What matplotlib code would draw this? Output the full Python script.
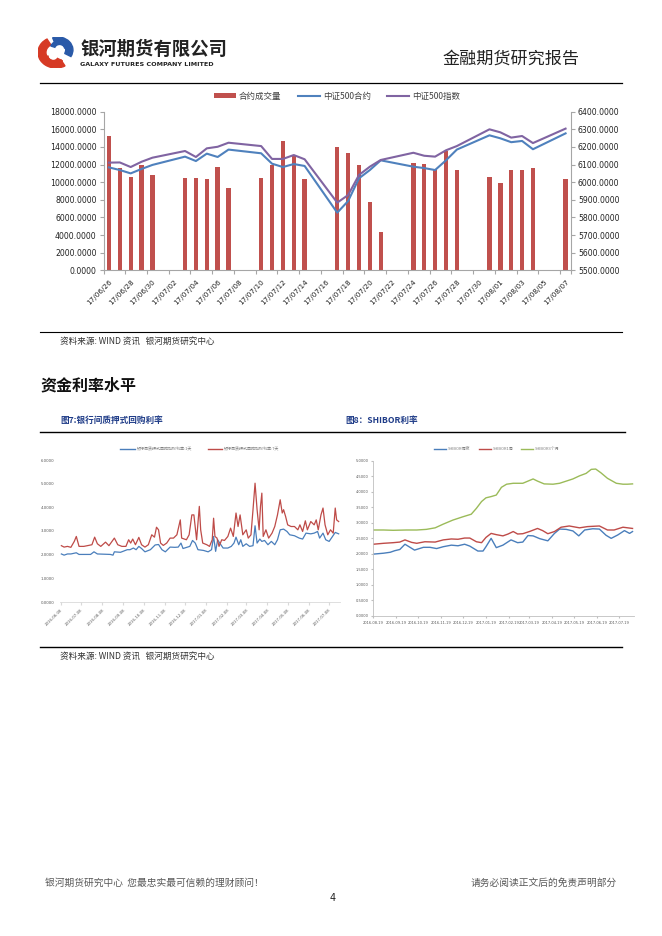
import matplotlib
matplotlib.use('Agg')
import matplotlib.pyplot as plt
import numpy as np
import pandas as pd
from matplotlib.patches import Patch, Wedge
from matplotlib.lines import Line2D

plt.rcParams['font.family'] = ['DejaVu Sans', 'Noto Sans CJK SC']
CJK = ['Noto Sans CJK SC', 'DejaVu Sans']

# ---------------- data: top chart ----------------
trade_dates = ['2017-06-26', '2017-06-27', '2017-06-28', '2017-06-29', '2017-06-30',
               '2017-07-03', '2017-07-04', '2017-07-05', '2017-07-06', '2017-07-07',
               '2017-07-10', '2017-07-11', '2017-07-12', '2017-07-13', '2017-07-14',
               '2017-07-17', '2017-07-18', '2017-07-19', '2017-07-20', '2017-07-21',
               '2017-07-24', '2017-07-25', '2017-07-26', '2017-07-27', '2017-07-28',
               '2017-07-31', '2017-08-01', '2017-08-02', '2017-08-03', '2017-08-04',
               '2017-08-07']
volume = [15250, 11580, 10600, 11950, 10780, 10480, 10500, 10330, 11760, 9300,
          10500, 11950, 14710, 13090, 10330, 14030, 13280, 11990, 7750, 4350,
          12210, 12070, 11460, 13540, 11380, 10590, 9870, 11420, 11420, 11610,
          10360]
contract = [6084, 6069, 6050, 6075, 6098, 6145, 6120, 6162, 6143, 6185,
            6164, 6105, 6086, 6103, 6092, 5827, 5893, 6022, 6069, 6124,
            6088, 6080, 6069, 6124, 6185, 6266, 6249, 6227, 6234, 6187,
            6277]
index500 = [6111, 6112, 6086, 6116, 6139, 6177, 6143, 6192, 6201, 6224,
            6205, 6132, 6132, 6154, 6130, 5884, 5927, 6041, 6088, 6126,
            6167, 6150, 6145, 6181, 6205, 6300, 6283, 6253, 6262, 6222,
            6304]
top_tick_labels = ['17/06/26', '17/06/28', '17/06/30', '17/07/02', '17/07/04', '17/07/06',
                   '17/07/08', '17/07/10', '17/07/12', '17/07/14', '17/07/16', '17/07/18',
                   '17/07/20', '17/07/22', '17/07/24', '17/07/26', '17/07/28', '17/07/30',
                   '17/08/01', '17/08/03', '17/08/05', '17/08/07']
top_start, top_end = '2017-06-26', '2017-08-07'

# ---------------- data: repo rates (days since 2016-06-08) ----------------
repo_start = '2016-06-08'
repo7_days = [1, 5, 10, 15, 20, 23, 27, 34, 41, 46, 50, 54, 59, 66, 71, 79, 84, 90, 96, 100,
              103, 106, 110, 115, 119, 124, 129, 134, 138, 141, 144, 147, 151, 156, 161, 166,
              171, 176, 178, 185, 189, 193, 196, 200, 204, 206, 209, 215, 219, 223, 225, 227,
              230, 233, 237, 241, 246, 250, 254, 258, 261, 264, 268, 273, 276, 280, 283, 286,
              289, 292, 294, 296, 298, 302, 306, 311, 315, 319, 323, 326, 328, 331, 334, 339,
              344, 349, 352, 356, 360, 363, 368, 373, 376, 379, 383, 386, 389, 393, 397, 401,
              404, 406, 409]
repo7 = [2.38, 2.32, 2.35, 2.31, 2.56, 2.77, 2.35, 2.35, 2.39, 2.42, 2.74, 2.46, 2.35, 2.53,
         2.38, 2.70, 2.42, 2.35, 2.35, 2.63, 2.49, 2.66, 2.42, 2.73, 2.42, 2.32, 2.42, 2.84,
         2.74, 3.16, 3.05, 2.49, 2.39, 2.49, 2.70, 2.70, 2.84, 3.47, 2.70, 2.63, 2.84, 3.68,
         3.68, 2.63, 4.04, 3.05, 2.49, 2.42, 2.35, 2.63, 3.54, 2.77, 2.70, 2.35, 2.63, 2.60,
         2.77, 3.12, 2.77, 3.76, 3.19, 3.68, 2.84, 3.05, 2.70, 2.84, 3.90, 5.02, 3.90, 3.05,
         4.04, 4.60, 2.77, 3.05, 2.70, 2.91, 3.19, 3.68, 4.32, 3.76, 3.90, 3.61, 3.26, 3.19,
         3.19, 3.05, 3.26, 2.98, 3.43, 3.05, 3.40, 3.26, 3.47, 3.05, 3.68, 3.97, 3.26, 2.84,
         3.05, 2.91, 3.97, 3.47, 3.40]
repo1_days = [1, 5, 10, 15, 23, 27, 44, 49, 54, 73, 77, 79, 88, 98, 102, 107, 111, 115, 119, 124,
              132, 139, 144, 149, 154, 161, 168, 173, 177, 180, 190, 194, 198, 202, 210, 217,
              222, 225, 228, 231, 234, 239, 246, 251, 255, 258, 262, 265, 268, 273, 278, 283,
              286, 289, 293, 296, 300, 305, 310, 315, 319, 323, 328, 333, 337, 344, 351, 356,
              361, 368, 373, 378, 381, 386, 390, 395, 400, 404, 409]
repo1 = [2.03, 1.98, 2.03, 2.03, 2.08, 2.01, 2.01, 2.12, 2.03, 2.01, 1.98, 2.12, 2.10, 2.21,
         2.21, 2.28, 2.21, 2.35, 2.26, 2.12, 2.21, 2.41, 2.43, 2.21, 2.12, 2.32, 2.31, 2.32,
         2.49, 2.26, 2.35, 2.60, 2.49, 2.21, 2.18, 2.12, 2.21, 2.77, 2.14, 2.63, 2.49, 2.28,
         2.28, 2.35, 2.49, 2.74, 2.42, 2.63, 2.35, 2.46, 2.35, 2.38, 3.22, 2.49, 2.66, 2.56,
         2.60, 2.42, 2.56, 2.42, 2.63, 3.05, 3.08, 2.98, 2.84, 2.80, 2.70, 2.66, 2.91, 2.88,
         2.91, 2.98, 2.70, 2.91, 2.63, 2.56, 2.77, 2.94, 2.88]
repo_tick_labels = ['2016-06-08', '2016-07-08', '2016-08-08', '2016-09-08', '2016-10-08',
                    '2016-11-08', '2016-12-08', '2017-01-08', '2017-02-08', '2017-03-08',
                    '2017-04-08', '2017-05-08', '2017-06-08', '2017-07-08']
repo_names = ['银行间质押式回购加权利率:1天', '银行间质押式回购加权利率:7天']

# ---------------- data: SHIBOR (days since 2016-08-19) ----------------
shibor_start = '2016-08-19'
on_days = [0, 14, 23, 29, 36, 43, 56, 68, 77, 86, 95, 106, 115, 124, 131, 142, 149, 153, 160,
           167, 176, 187, 196, 203, 210, 217, 226, 237, 246, 253, 262, 271, 279, 287, 298,
           307, 316, 323, 332, 341, 348, 352]
shibor_on = [1.99, 2.02, 2.05, 2.10, 2.14, 2.31, 2.12, 2.21, 2.21, 2.17, 2.23, 2.28, 2.26, 2.31,
             2.25, 2.09, 2.09, 2.23, 2.50, 2.20, 2.28, 2.45, 2.36, 2.38, 2.59, 2.58, 2.49, 2.42,
             2.66, 2.80, 2.79, 2.74, 2.58, 2.77, 2.81, 2.80, 2.60, 2.50, 2.61, 2.75, 2.66, 2.72]
w1_days = [0, 14, 27, 36, 43, 52, 59, 70, 84, 95, 106, 115, 124, 131, 140, 147, 153, 160, 167,
           176, 183, 190, 196, 203, 212, 223, 230, 237, 246, 255, 266, 280, 291, 307, 318, 327,
           339, 352]
shibor_1w = [2.31, 2.34, 2.36, 2.38, 2.45, 2.37, 2.34, 2.39, 2.38, 2.45, 2.48, 2.47, 2.51, 2.51,
             2.39, 2.36, 2.53, 2.66, 2.62, 2.58, 2.64, 2.72, 2.64, 2.65, 2.72, 2.82, 2.75, 2.65,
             2.72, 2.86, 2.90, 2.84, 2.88, 2.90, 2.77, 2.77, 2.86, 2.82]
m3_days = [0, 14, 27, 45, 59, 72, 84, 95, 108, 122, 133, 140, 147, 153, 160, 167, 174, 181, 190,
           203, 210, 217, 223, 232, 244, 253, 262, 271, 280, 289, 296, 302, 309, 318, 330, 339,
           345, 352]
shibor_3m = [2.77, 2.77, 2.76, 2.77, 2.77, 2.79, 2.84, 2.96, 3.09, 3.20, 3.28, 3.47, 3.69, 3.81,
             3.85, 3.90, 4.15, 4.25, 4.28, 4.28, 4.35, 4.42, 4.35, 4.26, 4.25, 4.28, 4.35, 4.42,
             4.52, 4.60, 4.73, 4.74, 4.62, 4.44, 4.28, 4.25, 4.25, 4.26]
shibor_tick_labels = ['2016-08-19', '2016-09-19', '2016-10-19', '2016-11-19', '2016-12-19',
                      '2017-01-19', '2017-02-19', '2017-03-19', '2017-04-19', '2017-05-19',
                      '2017-06-19', '2017-07-19']
shibor_names = ['SHIBOR隔夜', 'SHIBOR1周', 'SHIBOR3个月']

# ---------------- figure helpers ----------------
W, H = 662, 936
fig = plt.figure(figsize=(W / 100, H / 100), dpi=100)


def box(l, t, r, b):
    return [l / W, 1 - b / H, (r - l) / W, (b - t) / H]


def ftext(x, y, s, **kw):
    fig.text(x / W, 1 - y / H, s, **kw)


def hline(y, x0, x1, lw=0.8, color='black'):
    fig.add_artist(Line2D([x0 / W, x1 / W], [1 - y / H, 1 - y / H], lw=lw, color=color))


GRAY = '#A6A6A6'

# ---------------- header ----------------
lax = fig.add_axes(box(38, 37, 74, 68))
lax.set_xlim(0, 1); lax.set_ylim(0, 1); lax.axis('off')
lax.add_patch(Wedge((0.5, 0.5), 0.5, 120, 300, width=0.22, color='#D63A25'))
lax.add_patch(Wedge((0.42, 0.38), 0.3, 180, 330, width=0.16, color='#D63A25'))
lax.add_patch(Wedge((0.55, 0.58), 0.42, -30, 110, width=0.2, color='#2A5AA8'))
lax.add_patch(Wedge((0.6, 0.62), 0.26, 10, 160, width=0.12, color='#2A5AA8'))

ftext(80, 49, '银河期货有限公司', family=CJK, fontsize=13.2, fontweight='bold',
      va='center', ha='left', color='#222222')
ftext(80, 64, 'GALAXY FUTURES COMPANY LIMITED', fontsize=4.6, fontweight='bold',
      va='center', ha='left', color='#222222')
ftext(580, 59, '金融期货研究报告', family=CJK, fontsize=12.3, va='center', ha='right',
      color='#222222')
hline(83, 40, 622, lw=0.9)

# ---------------- top chart ----------------
t0 = pd.Timestamp(top_start)
xd = (pd.to_datetime(trade_dates) - t0).days.values
n_days = (pd.Timestamp(top_end) - t0).days

ax = fig.add_axes(box(103.5, 111.7, 571, 270.3))
ax.bar(xd, volume, width=0.4, color='#C0504D', zorder=2)
ax.set_xlim(-0.5, n_days + 0.5)
ax.set_ylim(0, 18000)
yt = np.arange(0, 18001, 2000)
ax.set_yticks(yt)
ax.set_yticklabels([f'{v:.4f}' for v in yt])
ax.tick_params(axis='y', labelsize=5.6, length=3, color=GRAY, pad=2, labelcolor='#222222')

tick_pos = [(pd.to_datetime('20' + s, format='%Y/%m/%d') - t0).days for s in top_tick_labels]
ax.set_xticks([p - 0.5 for p in tick_pos] + [n_days + 0.5])
ax.set_xticklabels([])
ax.tick_params(axis='x', which='major', length=3, color=GRAY)
ax.set_xticks(tick_pos, minor=True)
ax.set_xticklabels(top_tick_labels, minor=True, rotation=45, ha='right',
                   rotation_mode='anchor', fontsize=5.2, color='#222222')
ax.tick_params(axis='x', which='minor', length=0, pad=6)
for s in ['top', 'right']:
    ax.spines[s].set_visible(False)
for s in ['left', 'bottom']:
    ax.spines[s].set_color(GRAY)
    ax.spines[s].set_linewidth(0.8)

ax2 = ax.twinx()
ax2.plot(xd, contract, color='#4F81BD', lw=1.5)
ax2.plot(xd, index500, color='#8064A2', lw=1.5)
ax2.set_ylim(5500, 6400)
yt2 = np.arange(5500, 6401, 100)
ax2.set_yticks(yt2)
ax2.set_yticklabels([f'{v:.4f}' for v in yt2])
ax2.tick_params(axis='y', labelsize=5.6, length=3, color=GRAY, pad=2, labelcolor='#222222')
for s in ['top', 'left', 'bottom']:
    ax2.spines[s].set_visible(False)
ax2.spines['right'].set_color(GRAY)
ax2.spines['right'].set_linewidth(0.8)

handles = [Patch(facecolor='#C0504D', edgecolor='none'),
           Line2D([], [], color='#4F81BD', lw=1.5),
           Line2D([], [], color='#8064A2', lw=1.5)]
leg = fig.legend(handles, ['合约成交量', '中证500合约', '中证500指数'], loc='center',
                 bbox_to_anchor=(337 / W, 1 - 96 / H), ncol=3, frameon=False,
                 prop={'family': CJK, 'size': 6.1}, handlelength=2.6, handleheight=0.45,
                 columnspacing=1.9, handletextpad=0.4, labelcolor='#404040')

hline(332, 40, 622, lw=0.8)
ftext(60, 341, '资料来源: WIND 资讯   银河期货研究中心', family=CJK, fontsize=6.2,
      va='center', ha='left', color='#333333')

# ---------------- section title ----------------
ftext(40, 385, '资金利率水平', family=CJK, fontsize=11.5, fontweight='bold', va='center',
      ha='left', color='#111111')
ftext(60, 420, '图7:银行间质押式回购利率', family=CJK, fontsize=6.2, fontweight='bold',
      va='center', ha='left', color='#1F3C88')
ftext(345, 420, '图8：SHIBOR利率', family=CJK, fontsize=6.2, fontweight='bold',
      va='center', ha='left', color='#1F3C88')
hline(432, 40, 625, lw=1.0)

# ---------------- lower-left chart ----------------
r0 = pd.Timestamp(repo_start)
axl = fig.add_axes(box(60, 460, 340, 602))
axl.plot(r0 + pd.to_timedelta(repo1_days, unit='D'), repo1, color='#4A7EBB', lw=0.9)
axl.plot(r0 + pd.to_timedelta(repo7_days, unit='D'), repo7, color='#BE4B48', lw=0.9)
axl.set_ylim(0, 6)
axl.set_xlim(r0 - pd.Timedelta(days=1), r0 + pd.Timedelta(days=411))
axl.set_yticks(np.arange(0, 6.01, 1))
axl.set_yticklabels([f'{v:.4f}' for v in np.arange(0, 6.01, 1)])
axl.tick_params(axis='y', length=0, labelsize=2.8, labelcolor='#595959', pad=4)
axl.set_xticks(pd.to_datetime(repo_tick_labels))
axl.set_xticklabels(repo_tick_labels, rotation=45, ha='right', rotation_mode='anchor',
                    fontsize=2.8, color='#595959')
axl.tick_params(axis='x', length=2, color='#D9D9D9', pad=2)
for s in ['top', 'right', 'left']:
    axl.spines[s].set_visible(False)
axl.spines['bottom'].set_color('#D9D9D9')
axl.spines['bottom'].set_linewidth(0.6)
fig.legend([Line2D([], [], color='#4A7EBB', lw=1), Line2D([], [], color='#BE4B48', lw=1)],
           repo_names, loc='center', bbox_to_anchor=(200 / W, 1 - 449 / H), ncol=2,
           frameon=False, prop={'family': CJK, 'size': 2.9}, handlelength=3.5,
           columnspacing=4, handletextpad=0.5, labelcolor='#7F7F7F')

# ---------------- lower-right chart ----------------
s0 = pd.Timestamp(shibor_start)
axr = fig.add_axes(box(373.3, 461, 634, 615.7))
axr.plot(s0 + pd.to_timedelta(on_days, unit='D'), shibor_on, color='#4A7EBB', lw=1.0)
axr.plot(s0 + pd.to_timedelta(w1_days, unit='D'), shibor_1w, color='#BE4B48', lw=1.0)
axr.plot(s0 + pd.to_timedelta(m3_days, unit='D'), shibor_3m, color='#9BBB59', lw=1.0)
axr.set_ylim(0, 5)
axr.set_xlim(s0, s0 + pd.Timedelta(days=354))
yr = np.arange(0, 5.01, 0.5)
axr.set_yticks(yr)
axr.set_yticklabels([f'{v:.4f}' for v in yr])
axr.tick_params(axis='y', length=1.5, color='#BFBFBF', labelsize=2.6, labelcolor='#595959', pad=2)
axr.set_xticks(pd.to_datetime(shibor_tick_labels))
axr.set_xticklabels(shibor_tick_labels, fontsize=2.6, color='#595959')
axr.tick_params(axis='x', length=1.5, color='#BFBFBF', pad=2)
for s in ['top', 'right']:
    axr.spines[s].set_visible(False)
for s in ['left', 'bottom']:
    axr.spines[s].set_color('#BFBFBF')
    axr.spines[s].set_linewidth(0.6)
fig.legend([Line2D([], [], color='#4A7EBB', lw=1), Line2D([], [], color='#BE4B48', lw=1),
            Line2D([], [], color='#9BBB59', lw=1)],
           shibor_names, loc='center', bbox_to_anchor=(497 / W, 1 - 449 / H), ncol=3,
           frameon=False, prop={'family': CJK, 'size': 2.9}, handlelength=3,
           columnspacing=2, handletextpad=0.4, labelcolor='#7F7F7F')

hline(647, 40, 622, lw=1.0)
ftext(60, 656, '资料来源: WIND 资讯   银河期货研究中心', family=CJK, fontsize=6.2,
      va='center', ha='left', color='#333333')

# ---------------- footer ----------------
ftext(45, 883, '银河期货研究中心  您最忠实最可信赖的理财顾问！', family=CJK, fontsize=7,
      va='center', ha='left', color='#595959')
ftext(617, 883, '请务必阅读正文后的免责声明部分', family=CJK, fontsize=7,
      va='center', ha='right', color='#595959')
ftext(333, 898, '4', fontsize=7, va='center', ha='center', color='#222222')

fig.savefig('out.png', dpi=100)
